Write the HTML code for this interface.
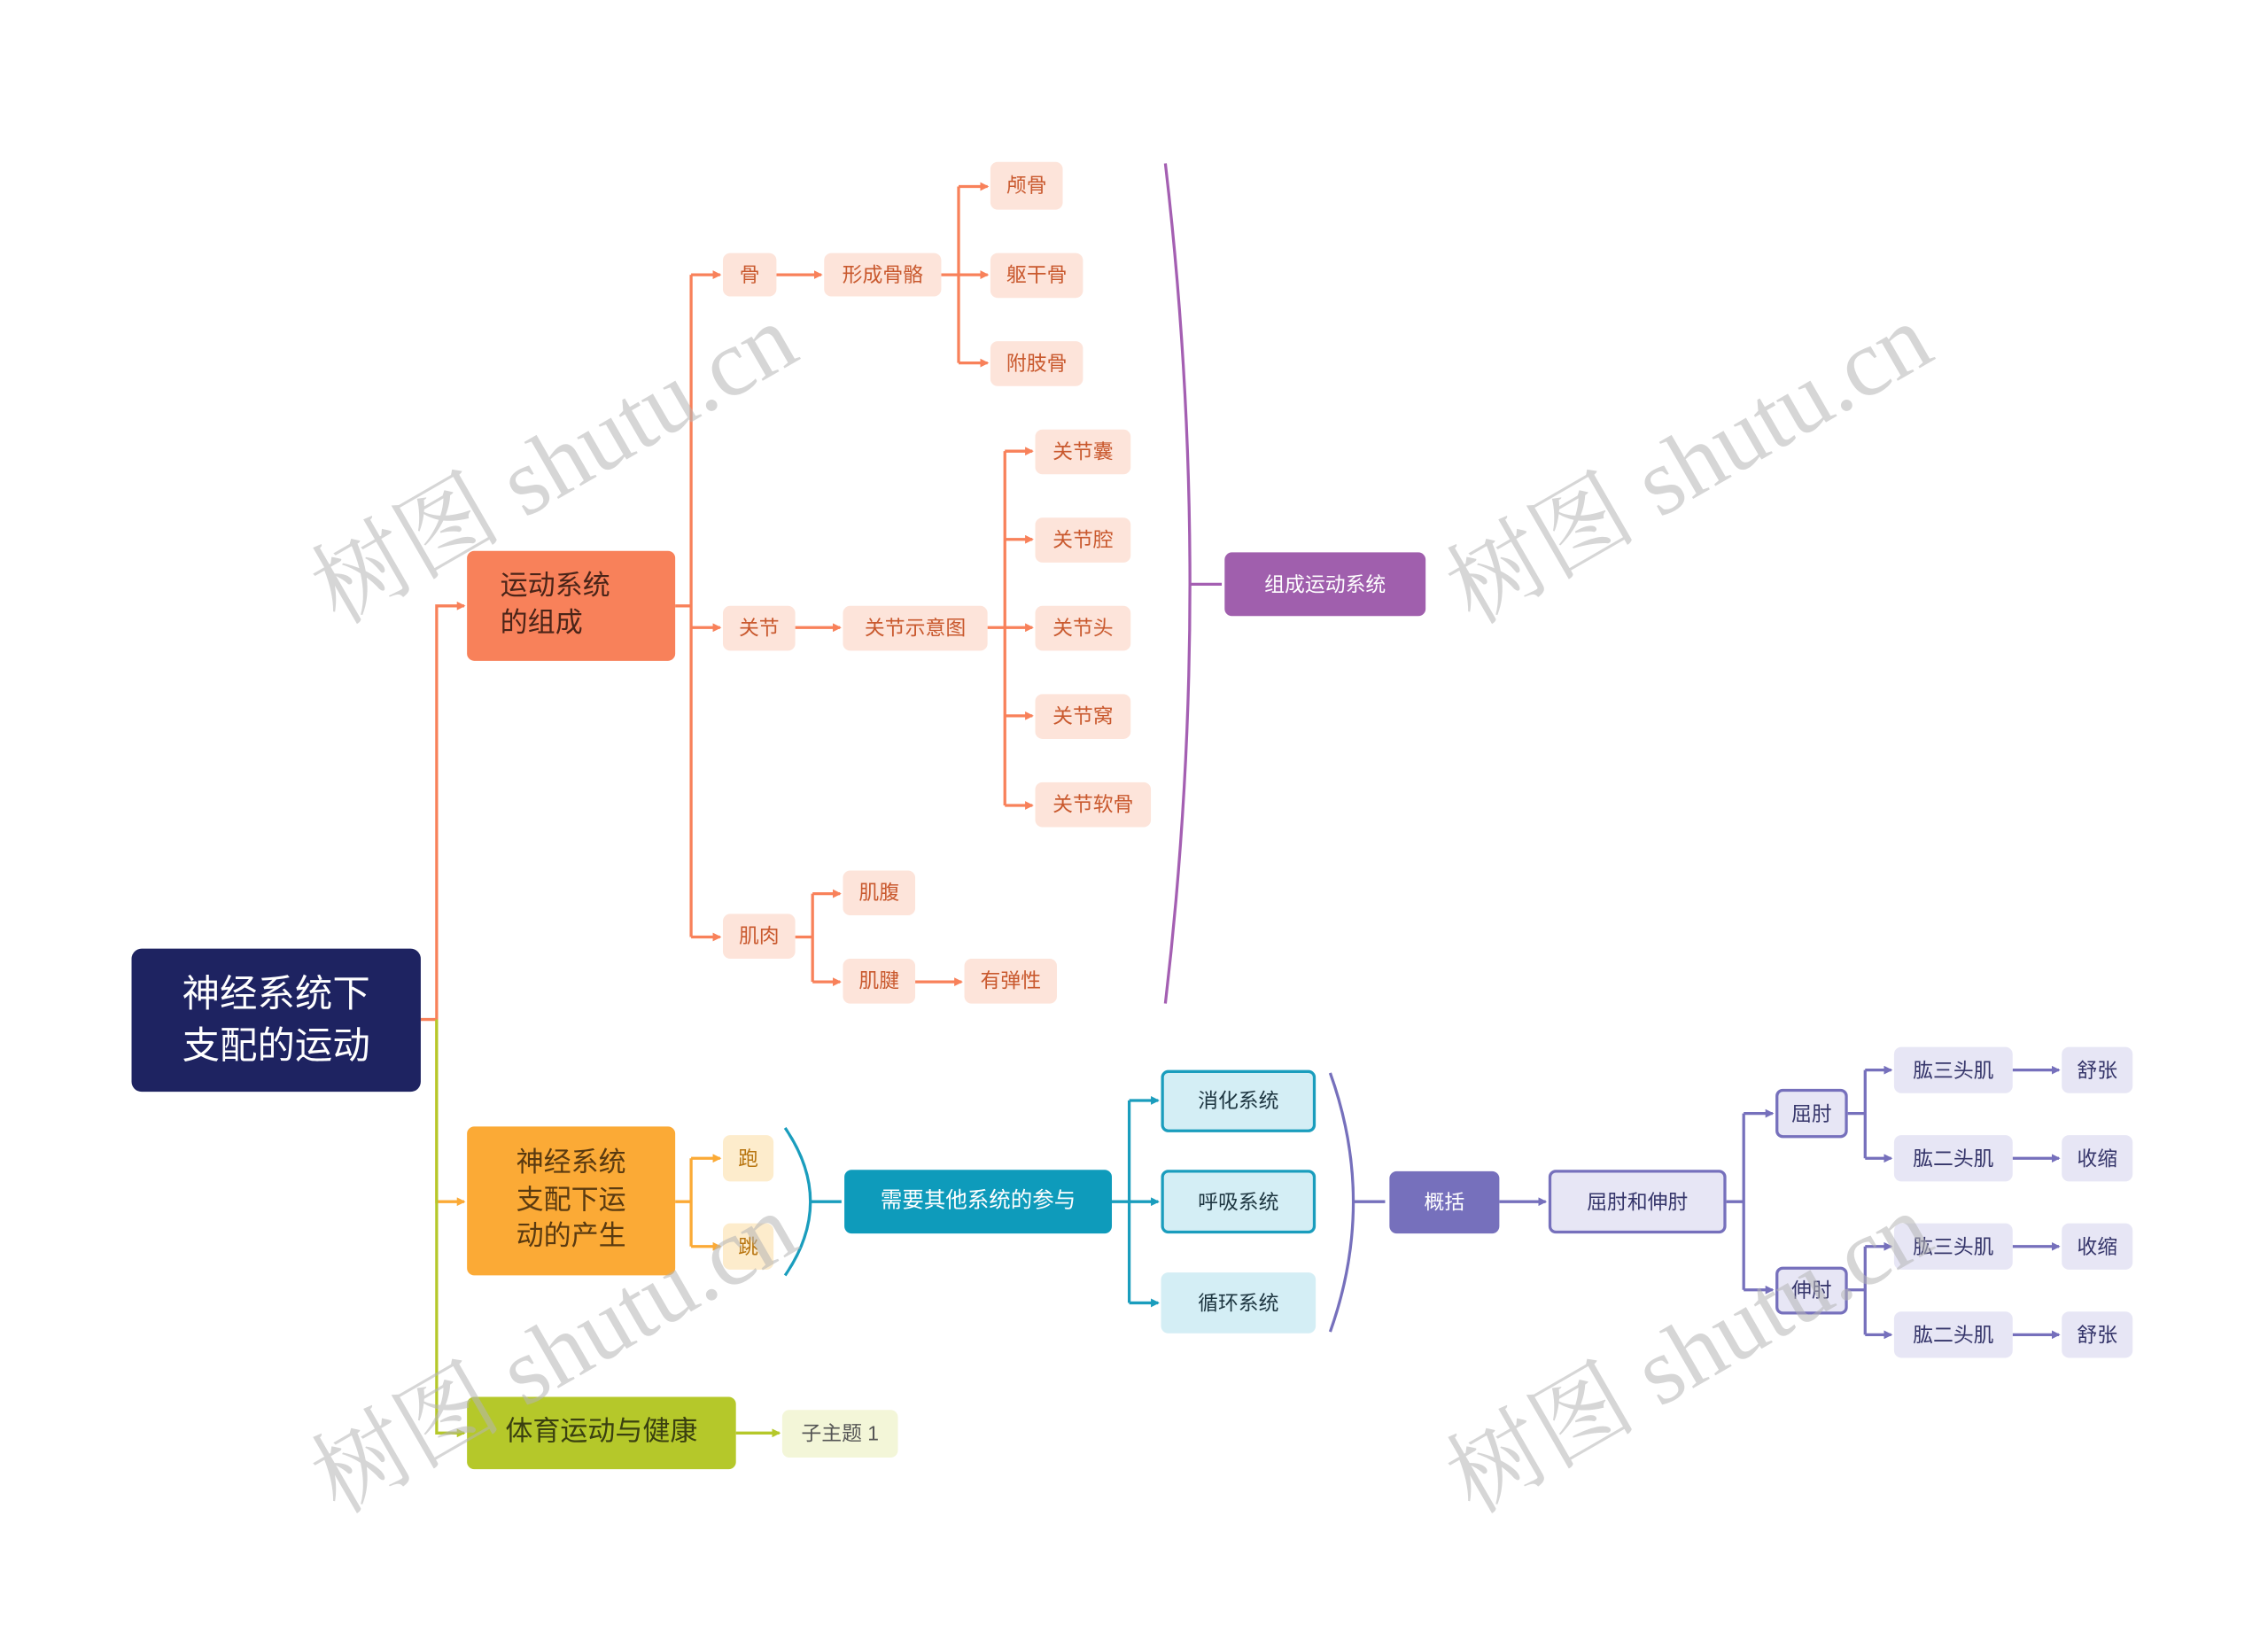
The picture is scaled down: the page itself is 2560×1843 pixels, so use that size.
<!DOCTYPE html>
<html><head><meta charset="utf-8">
<style>
html,body{margin:0;padding:0;background:#fff;}
#wrap{width:2560px;height:1843px;overflow:hidden;position:relative;background:#fff;}
#s{position:absolute;left:0;top:0;width:1570px;height:1130px;transform:scale(1.632);transform-origin:0 0;}
.b{position:absolute;box-sizing:border-box;display:flex;align-items:center;justify-content:center;text-align:center;border-radius:5px;font-family:"Liberation Sans","Noto Sans CJK SC",sans-serif;white-space:nowrap;line-height:1.35;}
.o{background:#fde4da;color:#c9592e;font-size:14px;}
.y{background:#fdeccc;color:#b87510;font-size:14px;}
.t{background:#d4eef5;color:#1d3540;font-size:14px;border:2px solid #1a9dbd;}
.p{background:#e7e6f5;color:#35356a;font-size:14px;}
.pb{border:2px solid #7670bc;}
.wm{position:absolute;font-family:"Liberation Serif","Noto Serif CJK SC",serif;font-size:66px;color:rgba(180,180,180,0.55);transform:rotate(-30deg);white-space:nowrap;transform-origin:center;}
svg{position:absolute;left:0;top:0;}
</style></head><body><div id="wrap"><div id="s">
<svg width="1570" height="1130" fill="none" stroke-width="2">
<defs>
<marker id="ao" markerWidth="6" markerHeight="6" refX="5" refY="3" orient="auto" markerUnits="userSpaceOnUse"><path d="M0,0L6,3L0,6z" fill="#f8815a" stroke="none"/></marker>
<marker id="ay" markerWidth="6" markerHeight="6" refX="5" refY="3" orient="auto" markerUnits="userSpaceOnUse"><path d="M0,0L6,3L0,6z" fill="#fbaa36" stroke="none"/></marker>
<marker id="ag" markerWidth="6" markerHeight="6" refX="5" refY="3" orient="auto" markerUnits="userSpaceOnUse"><path d="M0,0L6,3L0,6z" fill="#b5c82a" stroke="none"/></marker>
<marker id="at" markerWidth="6" markerHeight="6" refX="5" refY="3" orient="auto" markerUnits="userSpaceOnUse"><path d="M0,0L6,3L0,6z" fill="#1a9dbd" stroke="none"/></marker>
<marker id="ap" markerWidth="6" markerHeight="6" refX="5" refY="3" orient="auto" markerUnits="userSpaceOnUse"><path d="M0,0L6,3L0,6z" fill="#7670bc" stroke="none"/></marker>
</defs>
<path d="M291,705H302V419H321" stroke="#f8815a" marker-end="url(#ao)"/>
<path d="M302,705V831H321" stroke="#fbaa36" marker-end="url(#ay)"/>
<path d="M302,705V991H321" stroke="#b5c82a" marker-end="url(#ag)"/>
<g stroke="#f8815a">
<path d="M467,419H478"/><path d="M478,190V648"/>
<path d="M478,190H498" marker-end="url(#ao)"/><path d="M478,434H498" marker-end="url(#ao)"/><path d="M478,648H498" marker-end="url(#ao)"/>
<path d="M537,190H568" marker-end="url(#ao)"/>
<path d="M651,190H663M663,129V251"/>
<path d="M663,129H683" marker-end="url(#ao)"/><path d="M663,190H683" marker-end="url(#ao)"/><path d="M663,251H683" marker-end="url(#ao)"/>
<path d="M550,434H581" marker-end="url(#ao)"/>
<path d="M683,434H695M695,312V557"/>
<path d="M695,312H714" marker-end="url(#ao)"/><path d="M695,373H714" marker-end="url(#ao)"/><path d="M695,434H714" marker-end="url(#ao)"/><path d="M695,495H714" marker-end="url(#ao)"/><path d="M695,557H714" marker-end="url(#ao)"/>
<path d="M550,648H562M562,618V679"/>
<path d="M562,618H581" marker-end="url(#ao)"/><path d="M562,679H581" marker-end="url(#ao)"/>
<path d="M633,679H665" marker-end="url(#ao)"/>
</g>
<path d="M806,113Q840,404 806,694M823,404H845" stroke="#a45fb2"/>
<g stroke="#fbaa36">
<path d="M467,831H478M478,801V862"/>
<path d="M478,801H498" marker-end="url(#ay)"/><path d="M478,862H498" marker-end="url(#ay)"/>
</g>
<path d="M543,780Q578,831 543,882M560,831H582" stroke="#1a9dbd"/>
<g stroke="#1a9dbd">
<path d="M769,831H781M781,761V901"/>
<path d="M781,761H801" marker-end="url(#at)"/><path d="M781,831H801" marker-end="url(#at)"/><path d="M781,901H801" marker-end="url(#at)"/>
</g>
<g stroke="#7670bc">
<path d="M920,742Q952,831 920,921M936,831H958"/>
<path d="M1037,831H1069" marker-end="url(#ap)"/>
<path d="M1194,831H1206M1206,770V892"/>
<path d="M1206,770H1226" marker-end="url(#ap)"/><path d="M1206,892H1226" marker-end="url(#ap)"/>
<path d="M1278,770H1290M1290,740V801"/>
<path d="M1290,740H1308" marker-end="url(#ap)"/><path d="M1290,801H1308" marker-end="url(#ap)"/>
<path d="M1278,892H1290M1290,862V923"/>
<path d="M1290,862H1308" marker-end="url(#ap)"/><path d="M1290,923H1308" marker-end="url(#ap)"/>
<path d="M1392,740H1424" marker-end="url(#ap)"/><path d="M1392,801H1424" marker-end="url(#ap)"/><path d="M1392,862H1424" marker-end="url(#ap)"/><path d="M1392,923H1424" marker-end="url(#ap)"/>
</g>
<path d="M509,991H539" stroke="#b5c82a" marker-end="url(#ag)"/>
</svg>

<div class="b" style="left:91px;top:656px;width:200px;height:99px;background:#1e2361;color:#fff;font-size:26px;border-radius:7px;">神经系统下<br>支配的运动</div>
<div class="b" style="left:323px;top:381px;width:144px;height:76px;background:#f8815a;color:#4a2418;font-size:19px;justify-content:flex-start;padding-left:23px;text-align:left;">运动系统<br>的组成</div>
<div class="b" style="left:323px;top:779px;width:144px;height:103px;background:#fbaa36;color:#5a3a10;font-size:19px;">神经系统<br>支配下运<br>动的产生</div>
<div class="b" style="left:323px;top:966px;width:186px;height:50px;background:#b5c82a;color:#3a4010;font-size:19px;">体育运动与健康</div>

<div class="b o" style="left:500px;top:175px;width:37px;height:30px;">骨</div>
<div class="b o" style="left:570px;top:175px;width:81px;height:30px;">形成骨骼</div>
<div class="b o" style="left:685px;top:112px;width:50px;height:33px;">颅骨</div>
<div class="b o" style="left:685px;top:175px;width:64px;height:31px;">躯干骨</div>
<div class="b o" style="left:685px;top:236px;width:64px;height:31px;">附肢骨</div>
<div class="b o" style="left:500px;top:419px;width:50px;height:31px;">关节</div>
<div class="b o" style="left:583px;top:419px;width:100px;height:31px;">关节示意图</div>
<div class="b o" style="left:716px;top:297px;width:66px;height:31px;">关节囊</div>
<div class="b o" style="left:716px;top:358px;width:66px;height:31px;">关节腔</div>
<div class="b o" style="left:716px;top:419px;width:66px;height:31px;">关节头</div>
<div class="b o" style="left:716px;top:480px;width:66px;height:31px;">关节窝</div>
<div class="b o" style="left:716px;top:541px;width:80px;height:31px;">关节软骨</div>
<div class="b o" style="left:500px;top:632px;width:50px;height:31px;">肌肉</div>
<div class="b o" style="left:583px;top:602px;width:50px;height:31px;">肌腹</div>
<div class="b o" style="left:583px;top:663px;width:50px;height:31px;">肌腱</div>
<div class="b o" style="left:667px;top:663px;width:64px;height:31px;">有弹性</div>
<div class="b" style="left:847px;top:382px;width:139px;height:44px;background:#a05fad;color:#fff;font-size:14px;">组成运动系统</div>

<div class="b y" style="left:500px;top:785px;width:35px;height:32px;">跑</div>
<div class="b y" style="left:500px;top:846px;width:35px;height:32px;">跳</div>
<div class="b" style="left:584px;top:809px;width:185px;height:44px;background:#0e9bbb;color:#fff;font-size:15px;">需要其他系统的参与</div>
<div class="b t" style="left:803px;top:740px;width:107px;height:43px;">消化系统</div>
<div class="b t" style="left:803px;top:809px;width:107px;height:44px;">呼吸系统</div>
<div class="b t" style="left:803px;top:880px;width:107px;height:42px;border:none;">循环系统</div>
<div class="b" style="left:961px;top:810px;width:76px;height:43px;background:#7670bc;color:#fff;font-size:14px;">概括</div>
<div class="b p pb" style="left:1071px;top:809px;width:123px;height:44px;">屈肘和伸肘</div>
<div class="b p pb" style="left:1228px;top:753px;width:50px;height:34px;">屈肘</div>
<div class="b p pb" style="left:1228px;top:876px;width:50px;height:33px;">伸肘</div>
<div class="b p" style="left:1310px;top:724px;width:82px;height:32px;">肱三头肌</div>
<div class="b p" style="left:1310px;top:785px;width:82px;height:32px;">肱二头肌</div>
<div class="b p" style="left:1310px;top:846px;width:82px;height:32px;">肱三头肌</div>
<div class="b p" style="left:1310px;top:907px;width:82px;height:32px;">肱二头肌</div>
<div class="b p" style="left:1426px;top:724px;width:49px;height:32px;">舒张</div>
<div class="b p" style="left:1426px;top:785px;width:49px;height:32px;">收缩</div>
<div class="b p" style="left:1426px;top:846px;width:49px;height:32px;">收缩</div>
<div class="b p" style="left:1426px;top:907px;width:49px;height:32px;">舒张</div>
<div class="b" style="left:541px;top:975px;width:80px;height:33px;background:#f3f6d8;color:#555;font-size:14px;">子主题 1</div>

<div class="wm" style="left:195px;top:268px;">树图 shutu.cn</div>
<div class="wm" style="left:980px;top:268px;">树图 shutu.cn</div>
<div class="wm" style="left:195px;top:883px;">树图 shutu.cn</div>
<div class="wm" style="left:980px;top:883px;">树图 shutu.cn</div>
</div></div></body></html>
